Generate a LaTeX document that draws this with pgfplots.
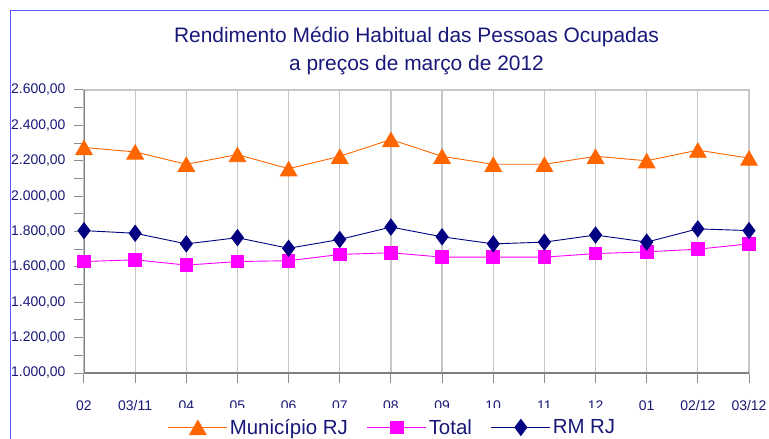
\documentclass[border=0pt]{standalone}
\usepackage{pgfplots}
\pgfplotsset{compat=1.18}
\usepackage{fontspec}
\setmainfont{Liberation Sans}
\definecolor{navytxt}{RGB}{24,24,120}
\definecolor{munic}{RGB}{255,102,0}
\definecolor{totalc}{RGB}{255,0,255}
\definecolor{rmrj}{RGB}{0,0,128}
\definecolor{frameblue}{RGB}{90,90,255}
\begin{document}
\begin{tikzpicture}
\useasboundingbox (-84bp,-66bp) rectangle (685bp,373bp);
\draw[frameblue, line width=1bp] (-73.5bp,-70bp) -- (-73.5bp,362.5bp) -- (690bp,362.5bp);
\begin{axis}[
  at={(0bp,0bp)}, anchor=south west,
  scale only axis, width=665bp, height=283bp,
  xmin=0, xmax=13, ymin=1000, ymax=2600,
  xtick={0,...,13},
  xticklabels={02,03/11,04,05,06,07,08,09,10,11,12,01,02/12,03/12},
  ytick={1000,1200,...,2600},
  minor y tick num=1,
  tick align=outside, tick pos=left,
  major tick length=10bp, minor tick length=10bp,
  tick style={draw=black!45, line width=1bp},
  xmajorgrids,
  grid style={draw=black!22, line width=1.2bp},
  axis line style={draw=black!22, line width=1.2bp},
  scaled y ticks=false,
  /pgf/number format/assume math mode=true,
  yticklabel style={xshift=-5bp, /pgf/number format/.cd, fixed, fixed zerofill, precision=2, use comma, 1000 sep={.}},
  xticklabel style={yshift=-13.5bp, text height=10bp, text depth=3bp},
  ticklabel style={font=\fontsize{14}{16}\selectfont, text=navytxt},
  legend style={at={(0.464,-0.1219)}, anchor=north, draw=none, fill=white,
    inner xsep=2bp, inner ysep=9.5bp, font=\fontsize{20.5}{24}\selectfont, text=navytxt,
    /tikz/every even column/.append style={column sep=17bp}},
  legend columns=-1,
  legend image code/.code={\draw[mark repeat=2,mark phase=2] plot coordinates {(0bp,0bp) (29.5bp,0bp) (59bp,0bp)};},
]
\addplot[munic, line width=0.9bp, mark=triangle*, mark size=9.5bp, mark options={yshift=-2.4bp, fill=munic, draw=munic}] coordinates {
(0,2275) (1,2250) (2,2180) (3,2235) (4,2155) (5,2225) (6,2320) (7,2225) (8,2180) (9,2180) (10,2225) (11,2200) (12,2260) (13,2215)};
\addlegendentry{Município RJ}
\addplot[totalc, line width=0.9bp, mark=square*, mark size=6.3bp, mark options={fill=totalc, draw=totalc}] coordinates {
(0,1630) (1,1640) (2,1610) (3,1630) (4,1635) (5,1670) (6,1680) (7,1655) (8,1655) (9,1655) (10,1675) (11,1685) (12,1700) (13,1730)};
\addlegendentry{Total}
\addplot[rmrj, line width=0.9bp, mark=diamond*, mark size=8bp, mark options={fill=rmrj, draw=rmrj}] coordinates {
(0,1805) (1,1790) (2,1730) (3,1765) (4,1705) (5,1755) (6,1825) (7,1770) (8,1730) (9,1740) (10,1780) (11,1740) (12,1815) (13,1805)};
\addlegendentry{RM RJ}
\draw[black!50, line width=1.2bp] (rel axis cs:0,1) -- (rel axis cs:0,0) -- (rel axis cs:1,0);
\end{axis}
\node[anchor=base, font=\fontsize{21}{25}\selectfont, text=navytxt] at (332.5bp,330bp) {Rendimento Médio Habitual das Pessoas Ocupadas};
\node[anchor=base, font=\fontsize{21}{25}\selectfont, text=navytxt] at (332.5bp,302bp) {a preços de março de 2012};
\end{tikzpicture}
\end{document}
